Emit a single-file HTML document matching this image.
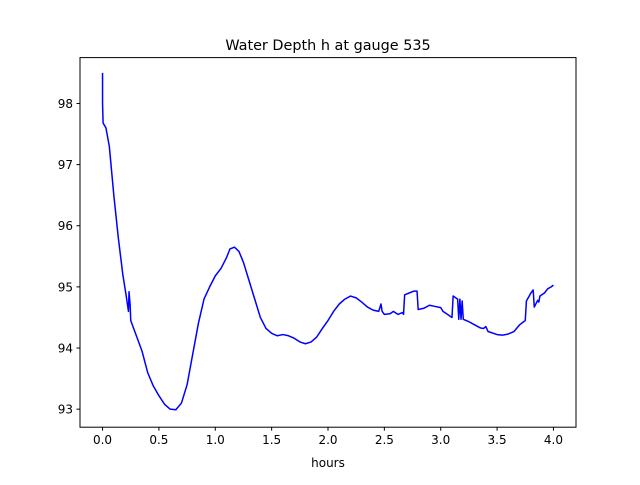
<!DOCTYPE html>
<html><head><meta charset="utf-8"><style>
body{margin:0;background:#fff;}
svg text{font-family:"DejaVu Sans","Liberation Sans",sans-serif;fill:#000;}
</style></head><body>
<svg id="chart" width="640" height="480" xmlns="http://www.w3.org/2000/svg">
<rect width="640" height="480" fill="#fff"/>
<text x="328" y="50" font-size="14.4" text-anchor="middle">Water Depth h at gauge 535</text>
<g id="plot"></g>
<rect x="80" y="57.6" width="496" height="369.6" fill="none" stroke="#000" stroke-width="1"/>
<text x="328" y="467" font-size="12" text-anchor="middle">hours</text>
</svg>
<script>
const xs=[0,0,0.005,0.03,0.06,0.1,0.14,0.18,0.21,0.23,0.235,0.245,0.25,0.3,0.35,0.4,0.45,0.5,0.55,0.6,0.65,0.7,0.75,0.8,0.85,0.9,0.95,1.0,1.05,1.1,1.13,1.17,1.21,1.25,1.3,1.35,1.4,1.45,1.5,1.55,1.6,1.65,1.7,1.75,1.8,1.85,1.9,1.95,2.0,2.05,2.1,2.15,2.2,2.25,2.3,2.35,2.4,2.45,2.47,2.48,2.5,2.55,2.58,2.62,2.66,2.67,2.68,2.72,2.76,2.79,2.8,2.85,2.9,2.95,3.0,3.02,3.06,3.1,3.11,3.15,3.16,3.17,3.18,3.19,3.2,3.25,3.3,3.35,3.38,3.4,3.42,3.5,3.55,3.6,3.65,3.7,3.75,3.76,3.8,3.82,3.83,3.86,3.87,3.88,3.92,3.95,3.98,4.0];
const ys=[98.5,98.0,97.68,97.6,97.3,96.5,95.8,95.2,94.85,94.6,94.92,94.7,94.45,94.2,93.95,93.6,93.38,93.22,93.08,93.0,92.99,93.1,93.4,93.9,94.4,94.8,95.0,95.18,95.3,95.48,95.62,95.65,95.58,95.4,95.1,94.8,94.5,94.32,94.24,94.2,94.22,94.2,94.16,94.1,94.07,94.1,94.18,94.32,94.45,94.6,94.72,94.8,94.85,94.82,94.75,94.67,94.62,94.6,94.72,94.6,94.55,94.56,94.6,94.55,94.58,94.55,94.87,94.9,94.93,94.93,94.63,94.65,94.7,94.68,94.66,94.6,94.55,94.5,94.85,94.8,94.47,94.8,94.47,94.77,94.47,94.43,94.38,94.33,94.32,94.35,94.27,94.22,94.21,94.23,94.27,94.38,94.45,94.77,94.9,94.95,94.67,94.78,94.75,94.85,94.9,94.97,95.0,95.03];
const xTicks=[0,0.5,1,1.5,2,2.5,3,3.5,4];
const xTickLabels=["0.0","0.5","1.0","1.5","2.0","2.5","3.0","3.5","4.0"];
const yTicks=[93,94,95,96,97,98];
const yTickLabels=["93","94","95","96","97","98"];
const L=80,R=576,T=57.6,B=427.2,xmin=-0.2,xmax=4.2,ymin=92.705,ymax=98.75;
const sx=v=>L+(v-xmin)/(xmax-xmin)*(R-L);
const sy=v=>B-(v-ymin)/(ymax-ymin)*(B-T);
const g=document.getElementById('plot');const NS='http://www.w3.org/2000/svg';
function mk(t,a){const e=document.createElementNS(NS,t);for(const k in a)e.setAttribute(k,a[k]);g.appendChild(e);return e;}
xTicks.forEach((v,i)=>{
 const l=mk('line',{x1:sx(v),x2:sx(v),y1:B,y2:B+3.5,stroke:'#000'});
 
 
 const t=mk('text',{x:sx(v),y:B+17,'font-size':12,'text-anchor':'middle'});t.textContent=xTickLabels[i];
 
 
});
yTicks.forEach((v,i)=>{
 const l=mk('line',{x1:L-3.5,x2:L,y1:sy(v),y2:sy(v),stroke:'#000'});
 
 
 const t=mk('text',{x:L-7,y:sy(v)+4.5,'font-size':12,'text-anchor':'end'});t.textContent=yTickLabels[i];
 
 
});
const p=mk('polyline',{points:xs.map((x,i)=>sx(x)+','+sy(ys[i])).join(' '),fill:'none',stroke:'#0000ff','stroke-width':1.5,'stroke-linejoin':'round'});


</script>
</body></html>
